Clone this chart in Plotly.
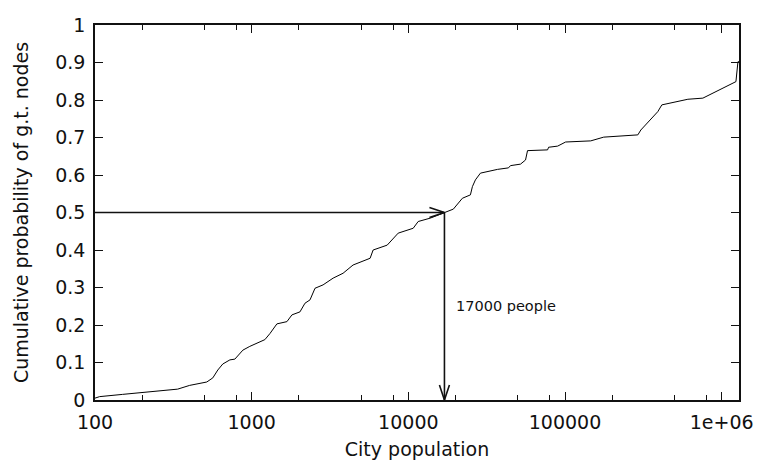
import numpy as np
import plotly.graph_objects as go

# ---- data ----
population = [100, 107, 150, 223, 337, 402, 517, 565, 608, 654, 726, 781, 879, 973,
              1128, 1214, 1307, 1449, 1679, 1807, 2033, 2188, 2357, 2537, 2856, 3311,
              3831, 4437, 5702, 5960, 7328, 8614, 10740, 11560, 13800, 16720, 19370,
              22130, 24900, 25640, 26800, 28860, 37080, 43570, 44880, 52000, 55980,
              57640, 77400, 78580, 89740, 100900, 145900, 176600, 291600, 304800,
              391100, 415000, 608300, 758600, 1233000, 1270000, 1290000]
cum_prob = [0.005, 0.009, 0.015, 0.022, 0.029, 0.039, 0.048, 0.059, 0.080, 0.096,
            0.107, 0.109, 0.133, 0.143, 0.155, 0.161, 0.177, 0.203, 0.209, 0.227,
            0.235, 0.258, 0.267, 0.298, 0.307, 0.325, 0.338, 0.360, 0.378, 0.400,
            0.413, 0.445, 0.458, 0.476, 0.485, 0.498, 0.509, 0.538, 0.547, 0.569,
            0.587, 0.605, 0.615, 0.619, 0.625, 0.629, 0.640, 0.665, 0.667, 0.674,
            0.677, 0.688, 0.691, 0.701, 0.707, 0.720, 0.769, 0.787, 0.802, 0.805,
            0.849, 0.902, 0.902]

median_pop = 17000
median_prob = 0.5
annot_text = "17000 people"

x_ticks = [100, 1000, 10000, 100000, 1000000]
x_ticktext = ["100", "1000", "10000", "100000", "1e+06"]
x_minor = [m * d for d in [100, 1000, 10000, 100000] for m in (2, 5, 8)]
y_ticks = [round(0.1 * i, 1) for i in range(11)]
y_ticktext = ["0", "0.1", "0.2", "0.3", "0.4", "0.5", "0.6", "0.7", "0.8", "0.9", "1"]

x_min, x_max = 100, 1290000
y_min, y_max = 0, 1

# ---- layout geometry ----
W, H = 757, 460
ML, MR, MT, MB = 95, 18, 25, 60
FONT = "DejaVu Sans"
px_per_decade = (W - ML - MR) / (np.log10(x_max) - np.log10(x_min))
px_per_unit = (H - MT - MB) / (y_max - y_min)
head_len, head_half = 15, 5

fig = go.Figure()
fig.add_trace(go.Scatter(x=population, y=cum_prob, mode="lines",
                         line=dict(color="black", width=1), showlegend=False,
                         hoverinfo="skip"))

arrow_style = dict(color="#111111", width=1.6)
# horizontal arrow
fig.add_trace(go.Scatter(x=[x_min, median_pop], y=[median_prob, median_prob], mode="lines",
                         line=arrow_style, showlegend=False))
hx = median_pop * 10 ** (-head_len / px_per_decade)
hy = head_half / px_per_unit
fig.add_trace(go.Scatter(x=[hx, median_pop, hx], y=[median_prob + hy, median_prob, median_prob - hy],
                         mode="lines", line=arrow_style, showlegend=False))
# vertical arrow
fig.add_trace(go.Scatter(x=[median_pop, median_pop], y=[median_prob, y_min], mode="lines",
                         line=arrow_style, showlegend=False))
vx = 10 ** (head_half / px_per_decade)
vy = head_len / px_per_unit
fig.add_trace(go.Scatter(x=[median_pop / vx, median_pop, median_pop * vx], y=[y_min + vy, y_min, y_min + vy],
                         mode="lines", line=arrow_style, showlegend=False))

fig.add_annotation(x=np.log10(median_pop), y=0.25, xref="x", yref="y",
                   text=annot_text, showarrow=False, xanchor="left", xshift=10,
                   font=dict(family=FONT, size=14.5, color="#111111"))

axis_common = dict(showline=True, linewidth=1.5, linecolor="#111111", mirror="ticks",
                   ticks="inside", ticklen=8, tickwidth=1.2, tickcolor="#111111",
                   showgrid=False, zeroline=False, automargin=False,
                   tickfont=dict(family=FONT, size=19, color="#111111"),
                   title_font=dict(family=FONT, size=19, color="#111111"))

fig.update_layout(
    width=W, height=H, margin=dict(l=ML, r=MR, t=MT, b=MB),
    plot_bgcolor="white", paper_bgcolor="white",
    xaxis=dict(type="log", range=[np.log10(x_min), np.log10(x_max)],
               tickvals=x_ticks, ticktext=x_ticktext,
               minor=dict(tickvals=x_minor, ticks="inside", ticklen=5, tickwidth=1, tickcolor="#111111"),
               title=dict(text="City population", standoff=11),
               ticklabelstandoff=4,
               **axis_common),
    yaxis=dict(range=[y_min, y_max], tickvals=y_ticks, ticktext=y_ticktext,
               title=dict(text="Cumulative probability of g.t. nodes", standoff=22),
               ticklabelstandoff=4,
               **axis_common),
)

fig.write_html("out.html")
